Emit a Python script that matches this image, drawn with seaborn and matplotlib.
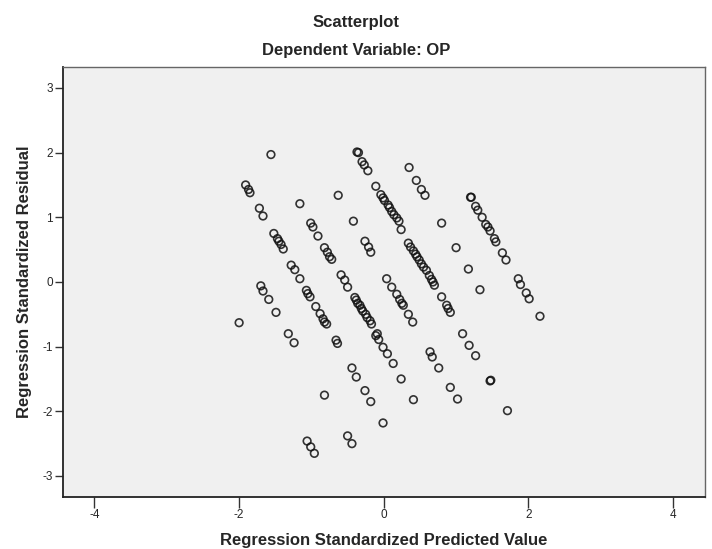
import numpy as np
import pandas as pd
import matplotlib
matplotlib.use("Agg")
import matplotlib.pyplot as plt
import seaborn as sns

# -------------------------------
# Data
# -------------------------------
pred = [
    -1.56, -0.37, -0.35, -0.30, -0.27, -0.22, -0.11,
    -0.04, -0.01, 0.01, 0.06, 0.08, 0.11, 0.14, 0.18, 0.21, 0.24,
    0.34, 0.37, 0.41, 0.44, 0.46, 0.49, 0.52, 0.55, 0.59, 0.63, 0.66, 0.68, 0.70,
    0.80, 0.87, 0.89, 0.92, 1.09, 1.18, 1.27, 1.47, 1.48, 1.71,
    0.35, 0.45, 0.52, 0.57,
    -1.91, -1.87, -1.85, -1.72, -1.67, -1.16, -0.63, -0.42,
    -1.01, -0.98, -0.91,
    -1.52, -1.47, -1.45, -1.42, -1.39,
    -0.82, -0.78, -0.75, -0.72,
    -0.26, -0.21, -0.18,
    -1.28, -1.23, -1.16,
    -0.59, -0.54, -0.50,
    0.04, 0.11, 0.18, 0.22, 0.25, 0.27, 0.34, 0.40,
    -1.70, -1.67, -1.59,
    -1.07, -1.05, -1.02, -0.94,
    -0.40, -0.38, -0.36, -0.33, -0.31, -0.29, -0.25, -0.23, -0.19, -0.17, -0.09,
    -1.49, -2.00, -1.32, -1.24,
    -0.88, -0.84, -0.82, -0.79,
    -0.66, -0.64,
    -0.11, -0.07, -0.01, 0.05, 0.13,
    0.24, 0.41,
    -0.44, -0.38, -0.26, -0.18, -0.01, -0.82,
    -1.06, -1.01, -0.96,
    -0.50, -0.44,
    1.20, 1.21, 1.27, 1.30, 1.36, 1.41, 1.44, 1.47, 1.53, 1.55, 1.64, 1.69,
    1.86, 1.89, 1.97, 2.01, 2.16,
    0.80, 1.00, 1.17, 1.33,
    0.64, 0.67, 0.76,
    0.92, 1.02,
]
resid = [
    1.97, 2.01, 2.00, 1.86, 1.81, 1.72, 1.48,
    1.35, 1.30, 1.26, 1.19, 1.15, 1.09, 1.04, 0.99, 0.94, 0.81,
    0.60, 0.54, 0.48, 0.43, 0.39, 0.34, 0.28, 0.23, 0.18, 0.10, 0.04, 0.00, -0.05,
    -0.23, -0.36, -0.41, -0.47, -0.80, -0.98, -1.14, -1.53, -1.52, -1.99,
    1.77, 1.57, 1.43, 1.34,
    1.50, 1.43, 1.38, 1.14, 1.02, 1.21, 1.34, 0.94,
    0.91, 0.85, 0.71,
    0.75, 0.67, 0.63, 0.58, 0.51,
    0.53, 0.46, 0.39, 0.35,
    0.63, 0.54, 0.46,
    0.26, 0.19, 0.05,
    0.11, 0.03, -0.08,
    0.05, -0.08, -0.19, -0.27, -0.33, -0.36, -0.50, -0.62,
    -0.06, -0.14, -0.27,
    -0.13, -0.18, -0.23, -0.38,
    -0.24, -0.28, -0.33, -0.36, -0.41, -0.45, -0.50, -0.55, -0.60, -0.65, -0.80,
    -0.47, -0.63, -0.80, -0.94,
    -0.49, -0.57, -0.62, -0.65,
    -0.90, -0.95,
    -0.83, -0.89, -1.01, -1.11, -1.26,
    -1.50, -1.82,
    -1.33, -1.47, -1.68, -1.85, -2.18, -1.75,
    -2.46, -2.55, -2.65,
    -2.38, -2.50,
    1.31, 1.31, 1.17, 1.11, 1.00, 0.89, 0.85, 0.79, 0.67, 0.62, 0.45, 0.34,
    0.05, -0.04, -0.17, -0.26, -0.53,
    0.91, 0.53, 0.20, -0.12,
    -1.08, -1.16, -1.33,
    -1.63, -1.81,
]

x_ticks = [-4, -2, 0, 2, 4]
y_ticks = [-3, -2, -1, 0, 1, 2, 3]

df = pd.DataFrame({"pred": pred, "resid": resid})

# -------------------------------
# Plot
# -------------------------------
sns.set_style("white")
plt.rcParams["font.family"] = ["Liberation Sans", "DejaVu Sans"]
plt.rcParams["axes.unicode_minus"] = False

fig = plt.figure(figsize=(7.12, 5.49), dpi=100)
ax = fig.add_axes([0.088, 0.0953, 0.902, 0.7822])
ax.set_facecolor("#f0f0f0")

sns.scatterplot(data=df, x="pred", y="resid", ax=ax, s=30, marker="o",
                facecolor="none", edgecolor="#111111", linewidth=1.2, alpha=0.85)

ax.set_xlim(-4.44, 4.44)
ax.set_ylim(-3.32, 3.32)
ax.set_xticks(x_ticks)
ax.set_yticks(y_ticks)
ax.tick_params(axis="x", direction="out", length=8, width=1, color="#333333",
               labelsize=8.5, pad=1, bottom=True)
ax.tick_params(axis="y", direction="out", length=6, width=1, color="#333333",
               labelsize=8.5, pad=1, left=True)
for sp in ["top", "right"]:
    ax.spines[sp].set_color("#666666")
    ax.spines[sp].set_linewidth(1.0)
for sp in ["left", "bottom"]:
    ax.spines[sp].set_color("#222222")
    ax.spines[sp].set_linewidth(1.3)

ax.set_xlabel("Regression Standardized Predicted Value", fontsize=12, fontweight="bold")
ax.set_ylabel("Regression Standardized Residual", fontsize=12, fontweight="bold")
ax.xaxis.set_label_coords(0.5, -0.085)
ax.yaxis.set_label_coords(-0.047, 0.5)

fig.text(0.5, 1 - 22 / 549, "Scatterplot", ha="center", va="center",
         fontsize=12, fontweight="bold")
fig.text(0.5, 1 - 50 / 549, "Dependent Variable: OP", ha="center", va="center",
         fontsize=12, fontweight="bold")

plt.savefig("out.png", dpi=100)
